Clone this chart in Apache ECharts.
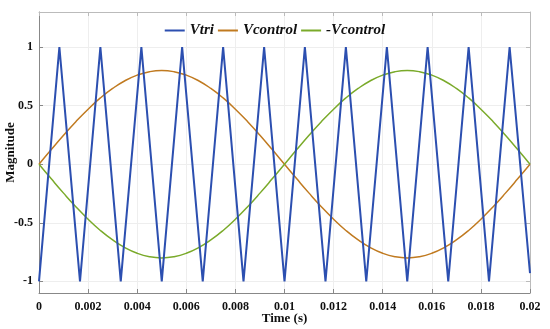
<!DOCTYPE html>
<html>
<head>
<meta charset="utf-8">
<script src="https://cdn.jsdelivr.net/npm/echarts@6/dist/echarts.min.js"></script>
<style>html,body{margin:0;padding:0;background:#fff}#c{width:550px;height:329px}</style>
</head>
<body>
<div id="c"></div>
<script>
// Triangle carrier vertices (time, value)
const triTimes = [0, 0.00083, 0.00167, 0.0025, 0.00333, 0.00417, 0.005, 0.00583, 0.00667, 0.0075, 0.00833, 0.00917, 0.01, 0.01083, 0.01167, 0.0125, 0.01333, 0.01417, 0.015, 0.01583, 0.01667, 0.0175, 0.01833, 0.01917, 0.02];
const triValues = [-1, 1, -1, 1, -1, 1, -1, 1, -1, 1, -1, 1, -1, 1, -1, 1, -1, 1, -1, 1, -1, 1, -1, 1, -0.93];
// Control signals sampled every 0.0005 s
const ctrlTimes = [0,0.0005,0.001,0.0015,0.002,0.0025,0.003,0.0035,0.004,0.0045,0.005,0.0055,0.006,0.0065,0.007,0.0075,0.008,0.0085,0.009,0.0095,0.01,0.0105,0.011,0.0115,0.012,0.0125,0.013,0.0135,0.014,0.0145,0.015,0.0155,0.016,0.0165,0.017,0.0175,0.018,0.0185,0.019,0.0195,0.02];
const vcontrol = [0,0.125,0.247,0.363,0.47,0.566,0.647,0.713,0.761,0.79,0.8,0.79,0.761,0.713,0.647,0.566,0.47,0.363,0.247,0.125,0,-0.125,-0.247,-0.363,-0.47,-0.566,-0.647,-0.713,-0.761,-0.79,-0.8,-0.79,-0.761,-0.713,-0.647,-0.566,-0.47,-0.363,-0.247,-0.125,0];
const negVcontrol = [0,-0.125,-0.247,-0.363,-0.47,-0.566,-0.647,-0.713,-0.761,-0.79,-0.8,-0.79,-0.761,-0.713,-0.647,-0.566,-0.47,-0.363,-0.247,-0.125,0,0.125,0.247,0.363,0.47,0.566,0.647,0.713,0.761,0.79,0.8,0.79,0.761,0.713,0.647,0.566,0.47,0.363,0.247,0.125,0];
const yTicks = [-1, -0.5, 0, 0.5, 1];
const seriesNames = ['Vtri', 'Vcontrol', '-Vcontrol'];

const zip = (xs, ys) => xs.map((x, i) => [x, ys[i]]);
const font = 'Liberation Serif';
const chart = echarts.init(document.getElementById('c'), null, {renderer: 'canvas'});
chart.setOption({
  backgroundColor: '#fff',
  animation: false,
  grid: {left: 39, right: 20, top: 12, bottom: 36, containLabel: false, outerBoundsMode: 'none'},
  legend: {
    top: 18, left: 'center',
    itemWidth: 20, itemHeight: 2, itemGap: 4,
    icon: 'rect',
    textStyle: {fontFamily: font, fontStyle: 'italic', fontWeight: 'bold', fontSize: 15, color: '#111'},
    data: seriesNames
  },
  xAxis: [{
    type: 'value', min: 0, max: 0.02, interval: 0.002,
    name: 'Time (s)', nameLocation: 'middle', nameGap: 19, nameMoveOverlap: false,
    nameTextStyle: {fontFamily: font, fontWeight: 'bold', fontSize: 13, color: '#111'},
    axisLine: {onZero: false, lineStyle: {color: '#888'}},
    axisTick: {inside: true, length: 4, lineStyle: {color: '#888'}},
    axisLabel: {fontFamily: font, fontWeight: 'bold', fontSize: 12, color: '#111', margin: 8,
      formatter: v => String(+v.toFixed(4))},
    splitLine: {show: true, lineStyle: {color: '#eeeeee'}}
  }, {
    type: 'value', min: 0, max: 0.02, interval: 0.002, position: 'top',
    axisLine: {show: true, onZero: false, lineStyle: {color: '#bbb'}},
    axisTick: {show: true, inside: true, length: 4, lineStyle: {color: '#bbb'}},
    axisLabel: {show: false}, splitLine: {show: false}
  }],
  yAxis: [{
    type: 'value', min: -1.1, max: 1.3,
    name: 'Magnitude', nameLocation: 'middle', nameGap: 22, nameMoveOverlap: false,
    nameTextStyle: {fontFamily: font, fontWeight: 'bold', fontSize: 13, color: '#111'},
    axisLine: {show: true, onZero: false, lineStyle: {color: '#888'}},
    axisTick: {show: true, inside: true, length: 4, customValues: yTicks, lineStyle: {color: '#888'}},
    axisLabel: {fontFamily: font, fontWeight: 'bold', fontSize: 12, color: '#111', margin: 6, customValues: yTicks},
    splitLine: {show: true, lineStyle: {color: '#eeeeee'}}
  }, {
    type: 'value', min: -1.1, max: 1.3, position: 'right',
    axisLine: {show: true, onZero: false, lineStyle: {color: '#bbb'}},
    axisTick: {show: true, inside: true, length: 4, customValues: yTicks, lineStyle: {color: '#bbb'}},
    axisLabel: {show: false, customValues: yTicks}, splitLine: {show: false}
  }],
  series: [
    {name: seriesNames[0], type: 'line', data: zip(triTimes, triValues), showSymbol: false, symbol: 'none',
     lineStyle: {color: '#2c4fb0', width: 2}, itemStyle: {color: '#2c4fb0'}, z: 3},
    {name: seriesNames[1], type: 'line', data: zip(ctrlTimes, vcontrol), smooth: true, showSymbol: false, symbol: 'none',
     lineStyle: {color: '#c07a20', width: 1.5}, itemStyle: {color: '#c07a20'}, z: 2},
    {name: seriesNames[2], type: 'line', data: zip(ctrlTimes, negVcontrol), smooth: true, showSymbol: false, symbol: 'none',
     lineStyle: {color: '#7aaa2a', width: 1.5}, itemStyle: {color: '#7aaa2a'}, z: 2}
  ]
});
</script>
</body>
</html>
